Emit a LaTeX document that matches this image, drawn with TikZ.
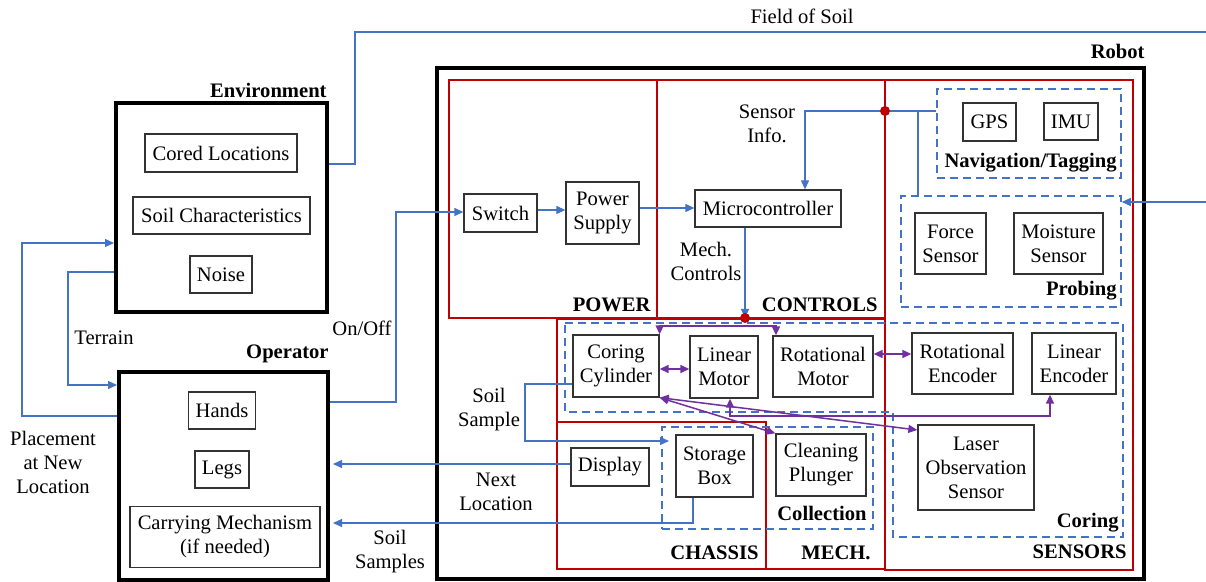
\documentclass[tikz,border=0pt]{standalone}
\usepackage{fontspec}
\setmainfont{Liberation Serif}
\usetikzlibrary{arrows.meta}
\definecolor{cblue}{RGB}{68,114,196}
\definecolor{cred}{RGB}{192,0,0}
\definecolor{cpurp}{RGB}{112,48,160}
\begin{document}
\begin{tikzpicture}[x=0.5pt,y=-0.5pt,
  every node/.style={font=\fontsize{10.3}{12}\selectfont, inner sep=0pt, align=center},
  blk/.style={draw=black!80, line width=0.65pt},
  bigbox/.style={draw=black, line width=2pt},
  redbox/.style={draw=cred, line width=1pt},
  dbox/.style={draw=cblue, line width=0.75pt, dash pattern=on 4pt off 2.5pt},
  ttl/.style={font=\fontsize{10.3}{12}\selectfont\bfseries, anchor=east},
  conn/.style={draw=cblue, line width=0.6pt},
  arr/.style={conn, -{Triangle[length=4.5pt,width=4pt]}},
  parr/.style={draw=cpurp, line width=0.75pt, {Triangle[length=4.5pt,width=4pt]}-{Triangle[length=4.5pt,width=4pt]}},
  reddot/.style={circle, fill=cred, minimum size=5pt, inner sep=0pt}
]
\useasboundingbox (0,0) rectangle (1206,582);

% containers
\node[bigbox, minimum width=105.5pt, minimum height=104.5pt] (env) at (221.5,207.5) {};
\node[bigbox, minimum width=104.5pt, minimum height=104pt] (op) at (223.5,476) {};
\node[bigbox, minimum width=353.5pt, minimum height=255.5pt] (robot) at (790.5,323.5) {};

\node[redbox, minimum width=104pt, minimum height=119pt] (power) at (553,199) {};
\node[redbox, minimum width=114pt, minimum height=119pt] (controls) at (771,199) {};
\node[redbox, minimum width=124pt, minimum height=245pt] (sensors) at (1009,325) {};
\node[redbox, minimum width=164pt, minimum height=125pt] (mech) at (721,444) {};
\node[redbox, minimum width=104.5pt, minimum height=73.5pt] (chassis) at (661.5,495.5) {};

\node[dbox, minimum width=92pt, minimum height=44.5pt] (nav) at (1029,133.5) {};
\node[dbox, minimum width=110pt, minimum height=55.5pt] (prob) at (1011,251.5) {};
\node[dbox, minimum width=105.5pt, minimum height=51pt] (coll) at (767.5,478) {};
\draw[dbox] (565,323) -- (1123,323) -- (1123,537) -- (893,537) -- (893,412) -- (565,412) -- cycle;

% titles
\node[ttl] (envT) at (327,90) {Environment};
\node[ttl] (opT) at (329,354) {Operator};
\node[ttl] (robT) at (1145,51) {Robot};
\node[ttl] (powT) at (651,305) {POWER};
\node[ttl] (conT) at (878,305) {CONTROLS};
\node[ttl] (navT) at (1117,163) {Navigation/Tagging};
\node[ttl] (proT) at (1117,291) {Probing};
\node[ttl] (corT) at (1119,523) {Coring};
\node[ttl] (senT) at (1127,552) {SENSORS};
\node[ttl] (mecT) at (871,553) {MECH.};
\node[ttl] (chaT) at (759,553) {CHASSIS};
\node[ttl] (colT) at (867,513) {Collection};

% blocks
\node[blk, minimum width=76pt, minimum height=19pt] (cored) at (221,153) {Cored Locations};
\node[blk, minimum width=88.5pt, minimum height=18.5pt] (soilc) at (221.5,215.5) {Soil Characteristics};
\node[blk, minimum width=31pt, minimum height=18.5pt] (noise) at (221,274.5) {Noise};
\node[blk, minimum width=33.5pt, minimum height=18.5pt] (hands) at (222,410.5) {Hands};
\node[blk, minimum width=27pt, minimum height=18.5pt] (legs) at (222,469.5) {Legs};
\node[blk, minimum width=95pt, minimum height=30.5pt] (carry) at (225,537) {Carrying Mechanism\\(if needed)};
\node[blk, minimum width=36.5pt, minimum height=19pt] (switch) at (500.5,213) {Switch};
\node[blk, minimum width=36.5pt, minimum height=31pt] (psup) at (602.5,213) {Power\\Supply};
\node[blk, minimum width=73pt, minimum height=18.5pt] (micro) at (768,208.5) {Microcontroller};
\node[blk, minimum width=26.5pt, minimum height=19pt] (gps) at (989.5,122) {GPS};
\node[blk, minimum width=27pt, minimum height=18.5pt] (imu) at (1071,121.5) {IMU};
\node[blk, minimum width=35.5pt, minimum height=30.5pt] (force) at (950.5,243.5) {Force\\Sensor};
\node[blk, minimum width=44.5pt, minimum height=30.5pt] (moist) at (1058.5,243.5) {Moisture\\Sensor};
\node[blk, minimum width=43pt, minimum height=31pt] (cyl) at (616,366) {Coring\\Cylinder};
\node[blk, minimum width=34pt, minimum height=31pt] (linm) at (724,367) {Linear\\Motor};
\node[blk, minimum width=50pt, minimum height=30.5pt] (rotm) at (823,366.5) {Rotational\\Motor};
\node[blk, minimum width=50.5pt, minimum height=30.5pt] (rote) at (962.5,363.5) {Rotational\\Encoder};
\node[blk, minimum width=42pt, minimum height=30.5pt] (line) at (1074,363.5) {Linear\\Encoder};
\node[blk, minimum width=58pt, minimum height=42.5pt] (laser) at (976,467.5) {Laser\\Observation\\Sensor};
\node[blk, minimum width=39pt, minimum height=19pt] (display) at (610,467) {Display};
\node[blk, minimum width=38.5pt, minimum height=31pt] (store) at (714.5,466) {Storage\\Box};
\node[blk, minimum width=45pt, minimum height=31pt] (plunger) at (821,465) {Cleaning\\Plunger};

% free text
\node (fsl) at (802,16) {Field of Soil};
\node (terr) at (104,338) {Terrain};
\node (plac) at (53,462) {Placement\\at New\\Location};
\node (onoff) at (362,328) {On/Off};
\node (ssl) at (489,410) {Soil\\Sample};
\node (nxl) at (496,492) {Next\\Location};
\node (ssl2) at (390,552) {Soil\\Samples};
\node (sinf) at (767,124) {Sensor\\Info.};
\node (mcl) at (706,261) {Mech.\\Controls};

% free ends
\coordinate (fsEnd) at (1206,32);
\coordinate (rin) at (1206,202);
\coordinate (ssTip) at (669,441);
\coordinate (nxTip) at (333,464);
\coordinate (spTip) at (333,523);

% blue connectors
\draw[conn] (env.east |- 0,164) -| (355,32) -- (fsEnd);
\draw[arr] (env.west |- 0,272) -| (68,385) -- (op.west |- 0,385);
\draw[arr] (op.west |- 0,416) -| (22,243) -- (env.west |- 0,243);
\draw[arr] (op.east |- 0,402) -| (396,212) -- (switch.west |- 0,212);
\draw[arr] (switch.east |- 0,210) -- (psup.west |- 0,210);
\draw[arr] (psup.east |- 0,208) -- (micro.west |- 0,208);
\draw[arr] (nav.west |- 0,111) -- (805,111) -- (micro.north -| 805,0);
\draw[conn] (918,111) -- (prob.north -| 918,0);
\draw[arr] (micro.south -| 745,0) -- (745,318);
\draw[arr] (rin) -- (prob.east |- 0,202);
\draw[arr] (cyl.west |- 0,384) -| (525,441) -- (ssTip);
\draw[arr] (display.west |- 0,464) -- (nxTip);
\draw[arr] (store.south -| 693,0) |- (spTip);
\node[reddot] (d1) at (885,111) {};
\node[reddot] (d2) at (745,318) {};

% purple connectors
\draw[parr] (cyl.north east) |- (776,326) -- (rotm.north -| 776,0);
\draw[parr] (cyl.east |- 0,369) -- (linm.west |- 0,369);
\draw[parr] (rotm.east |- 0,354) -- (rote.west |- 0,354);
\draw[parr] (cyl.south east) -- (plunger.north west);
\draw[parr] (cyl.south east) -- (laser.west |- 0,430);
\draw[parr] (linm.south -| 730,0) |- (1050,416) -- (line.south -| 1050,0);
\end{tikzpicture}
\end{document}
